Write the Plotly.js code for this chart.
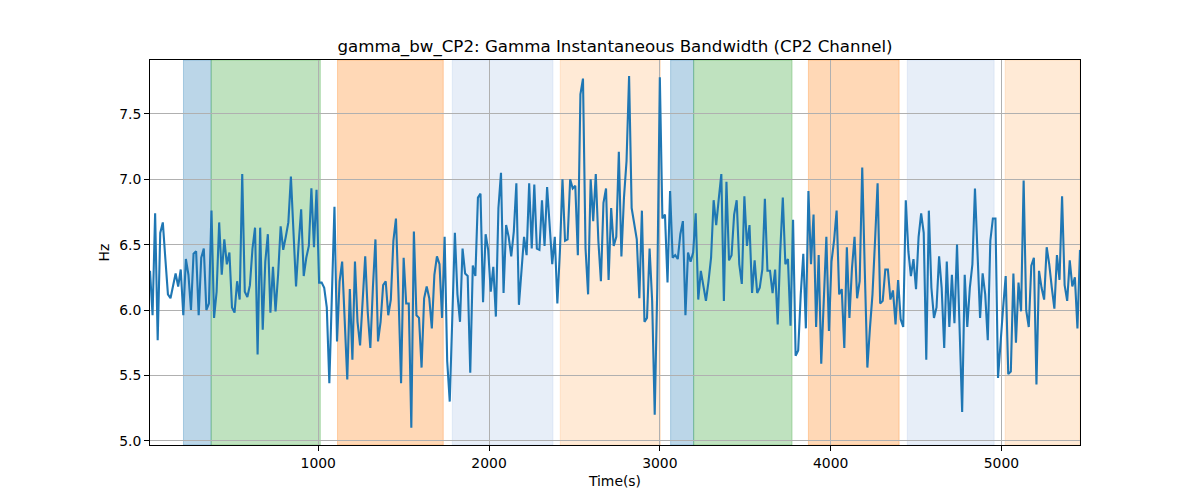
<!DOCTYPE html>
<html>
<head>
<meta charset="utf-8">
<script src="https://cdn.plot.ly/plotly-3.0.1.min.js"></script>
<style>html,body{margin:0;padding:0;background:#fff}#chart{width:1200px;height:500px}</style>
</head>
<body>
<div id="chart"></div>
<script>
// Time step of 15 s, first sample at 15 s
const timeStart = 15;
const timeStep = 15;
const bandwidthHz = [
6.30,5.96,6.74,5.77,6.59,6.67,6.39,6.12,6.09,6.19,6.28,6.18,6.31,5.96,6.39,6.27,6.00,6.43,6.45,5.96,
6.40,6.47,6.00,6.05,6.76,5.94,6.14,6.67,6.27,6.54,6.35,6.44,6.02,5.98,6.22,6.08,7.04,6.14,6.10,6.19,
6.47,6.63,5.66,6.63,5.85,6.37,6.58,5.98,6.33,5.99,6.27,6.64,6.46,6.56,6.67,7.02,6.63,6.18,6.50,6.77,
6.26,6.40,6.49,6.93,6.48,6.92,6.21,6.21,6.17,6.02,5.44,6.17,6.79,5.76,6.22,6.37,5.96,5.47,6.16,5.62,
6.37,5.91,5.73,6.07,6.41,5.98,5.71,6.17,6.54,5.76,5.91,6.19,6.22,5.96,6.08,6.53,6.70,6.12,5.44,6.40,
6.05,6.05,5.10,6.60,5.96,5.94,5.56,6.09,6.18,6.09,5.86,6.27,6.41,6.35,5.94,6.56,5.61,5.30,5.91,6.59,
6.12,5.91,6.47,6.28,6.26,5.52,6.34,6.26,6.86,6.89,6.06,6.58,6.46,6.14,6.33,5.95,6.78,7.05,6.13,6.65,
6.56,6.41,6.60,6.97,6.04,6.32,6.56,6.42,6.97,6.47,6.96,6.47,6.46,6.84,6.49,6.94,6.68,6.35,6.56,6.05,
6.45,7.00,6.53,6.54,7.00,6.93,6.95,6.42,7.65,7.77,6.47,6.12,7.00,6.68,7.04,6.53,6.22,6.82,6.93,6.23,
6.78,6.49,6.56,7.21,6.41,6.86,7.14,7.79,6.78,6.67,6.54,6.09,6.76,5.91,5.94,6.47,6.07,5.20,6.17,7.78,
6.70,6.73,6.21,6.91,6.40,6.42,6.39,6.58,6.68,5.96,6.44,6.37,6.44,6.74,6.08,6.30,6.17,6.07,6.22,6.40,
6.84,6.65,6.85,7.04,6.07,6.98,6.38,6.42,6.73,6.84,6.35,6.20,6.87,6.49,6.65,6.13,6.38,6.13,6.17,6.31,
6.85,6.30,6.30,6.13,6.31,5.89,6.45,6.86,6.35,6.39,5.88,6.69,5.65,5.69,6.12,6.43,5.86,6.91,6.35,6.73,
5.87,6.42,5.59,6.12,6.56,5.84,6.37,6.53,6.76,6.12,6.16,5.71,6.48,5.94,6.32,6.56,6.09,6.22,7.09,6.30,
5.56,5.86,6.12,6.53,6.97,6.05,6.07,6.31,6.31,6.08,6.15,5.89,6.23,5.93,5.87,6.84,6.45,6.26,6.39,6.16,
6.56,6.74,6.59,5.62,6.76,6.17,5.94,6.02,6.41,6.17,5.71,6.37,5.87,6.27,5.90,6.50,5.86,5.22,6.27,5.87,
6.17,6.35,6.93,6.37,5.94,6.28,6.12,5.77,6.53,6.70,6.70,5.48,5.79,6.02,6.26,5.51,5.53,6.28,5.75,6.21,
5.99,6.99,6.00,5.87,6.34,6.40,5.43,6.30,6.17,6.08,6.48,6.35,6.17,6.01,6.42,6.23,6.87,6.19,6.07,6.38,
6.18,6.25,5.86,6.46
];
const timeSec = bandwidthHz.map((_, i) => timeStart + timeStep * i);

// Shaded phase spans (start, end, color group)
const spanStarts = [211, 373, 1113, 1785, 2417, 3063, 3198, 3870, 4449, 5022];
const spanEnds   = [373, 1012, 1732, 2374, 3003, 3198, 3774, 4401, 4957, 5460];
const spanKinds  = ['blue','green','orange','lightblue','lightorange','blue','green','orange','lightblue','lightorange'];
const spanColors = {
  blue: 'rgba(31,119,180,0.3)',
  green: 'rgba(44,160,44,0.3)',
  orange: 'rgba(255,127,14,0.3)',
  lightblue: 'rgba(174,199,232,0.3)',
  lightorange: 'rgba(255,187,120,0.3)'
};

const xTicks = [1000, 2000, 3000, 4000, 5000];
const yTicks = [5.0, 5.5, 6.0, 6.5, 7.0, 7.5];

const shapes = spanStarts.map((s, i) => ({
  type: 'rect', xref: 'x', yref: 'paper', x0: s, x1: spanEnds[i], y0: 0, y1: 1,
  fillcolor: spanColors[spanKinds[i]], line: {color: spanColors[spanKinds[i]], width: 1}, layer: 'below'
}));

const font = {family: 'DejaVu Sans, sans-serif', size: 13.9, color: '#000'};

Plotly.newPlot('chart', [{
  x: timeSec, y: bandwidthHz, type: 'scatter', mode: 'lines',
  line: {color: '#1f77b4', width: 2.1}, hoverinfo: 'x+y'
}], {
  width: 1200, height: 500,
  margin: {l: 150, r: 120, t: 60, b: 55, pad: 0},
  paper_bgcolor: '#fff', plot_bgcolor: 'rgba(0,0,0,0)',
  font: font,
  showlegend: false,
  title: {text: 'gamma_bw_CP2: Gamma Instantaneous Bandwidth (CP2 Channel)', font: {family: 'DejaVu Sans, sans-serif', size: 16.67, color: '#000'},
          x: 0.5125, xanchor: 'center', xref: 'container', y: 0.908, yanchor: 'middle', yref: 'container'},
  xaxis: {
    range: [15, 5460], tickvals: xTicks, ticktext: xTicks.map(String),
    showgrid: true, gridcolor: '#b0b0b0', gridwidth: 1,
    zeroline: false, showline: true, linecolor: '#000', linewidth: 1, mirror: true,
    ticks: 'outside', ticklen: 5, tickcolor: '#000', tickfont: font,
    title: {text: 'Time(s)', font: font, standoff: 6}
  },
  yaxis: {
    range: [4.968, 7.912], tickvals: yTicks, ticktext: yTicks.map(v => v.toFixed(1)),
    showgrid: true, gridcolor: '#b0b0b0', gridwidth: 1,
    zeroline: false, showline: true, linecolor: '#000', linewidth: 1, mirror: true,
    ticks: 'outside', ticklen: 5, tickcolor: '#000', tickfont: font,
    title: {text: 'Hz', font: font, standoff: 6}
  },
  shapes: shapes
}, {staticPlot: true, displayModeBar: false});
</script>
</body>
</html>
